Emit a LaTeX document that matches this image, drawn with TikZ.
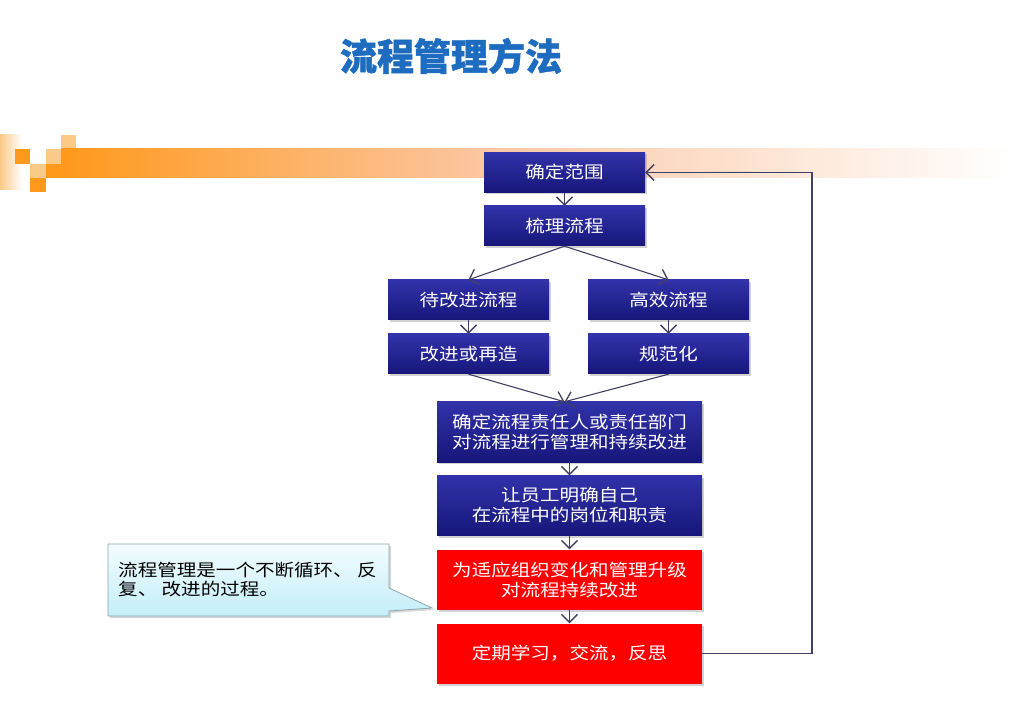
\documentclass[tikz,border=0pt]{standalone}
\usepackage{fontspec}
\usetikzlibrary{arrows.meta,shadows}
\newfontfamily\cjk[FakeStretch=1.15]{Noto Sans CJK SC}
\newfontfamily\cjkt[BoldFeatures={FakeBold=1.2}]{Noto Sans CJK SC}
\definecolor{boxtop}{RGB}{50,50,170}
\definecolor{boxbot}{RGB}{22,22,122}
\definecolor{lnc}{RGB}{64,64,100}
\definecolor{redb}{RGB}{255,0,0}
\definecolor{org}{RGB}{255,153,28}
\definecolor{lorg}{RGB}{252,202,135}
\definecolor{peach}{RGB}{252,198,162}
\definecolor{ttl}{RGB}{30,108,192}
\definecolor{cyt}{RGB}{242,252,254}
\definecolor{cyb}{RGB}{196,238,248}
\definecolor{cyd}{RGB}{140,165,175}
\tikzset{
  boxbase/.style={draw=none, minimum width=161pt, minimum height=40pt, inner sep=0pt,
    align=center, text=white, font=\cjk\fontsize{17}{20}\selectfont,
    drop shadow={shadow xshift=2pt, shadow yshift=-2pt, opacity=0.35}},
  bluebox/.style={boxbase, top color=boxtop, bottom color=boxbot},
  redbox/.style={boxbase, fill=redb},
  widebox/.style={minimum width=265pt, minimum height=60pt},
  conn/.style={draw=lnc, line width=1.1pt, -{Straight Barb[length=8pt,width=16pt,line width=1.3pt]}},
}
\begin{document}
\begin{tikzpicture}[x=1pt,y=-1pt]
\useasboundingbox (0,0) rectangle (1023,708);
\fill[white] (0,0) rectangle (1023,708);
% title
\node[font=\cjkt\bfseries\fontsize{37}{40}\selectfont, text=ttl] (ttl) at (451,56) {流程管理方法};
% orange decoration
\shade[left color=lorg, right color=white] (0,135) rectangle (22,190);
\fill[org] (15,149) rectangle (30,164);
\fill[lorg] (30,164) rectangle (46,178);
\fill[org] (30,178) rectangle (46,192);
\fill[lorg] (46,149) rectangle (61,164);
\fill[org] (46,164) rectangle (61,178);
\fill[lorg] (61,135) rectangle (76,149);
\shade[left color=org, right color=peach] (61,149) rectangle (482,178);
\shade[left color=peach, right color=white] (481.5,149) rectangle (1015,178);
% boxes
\node[bluebox] (n1) at (564.5,172.5) {确定范围};
\node[bluebox] (n2) at (564.5,226) {梳理流程};
\node[bluebox] (n3) at (468.5,300) {待改进流程};
\node[bluebox] (n4) at (668.5,300) {高效流程};
\node[bluebox] (n5) at (468.5,354) {改进或再造};
\node[bluebox] (n6) at (668.5,354) {规范化};
\node[bluebox,widebox] (n7) at (569.5,432) {确定流程责任人或责任部门\\对流程进行管理和持续改进};
\node[bluebox,widebox] (n8) at (569.5,505.5) {让员工明确自己\\在流程中的岗位和职责};
\node[redbox,widebox] (n9) at (569.5,579.5) {为适应组织变化和管理升级\\对流程持续改进};
\node[redbox,widebox] (n10) at (569.5,653.5) {定期学习，交流，反思};
% connectors
\coordinate (rt) at (812,0);
\draw[conn] (n1.south) -- (n2.north);
\draw[conn] (n2.south) -- (n3.north);
\draw[conn] (n2.south) -- (n4.north);
\draw[conn] (n3.south) -- (n5.north);
\draw[conn] (n4.south) -- (n6.north);
\draw[conn] (n5.south) -- (n1 |- n7.north);
\draw[conn] (n6.south) -- (n1 |- n7.north);
\draw[conn] (n7.south) -- (n8.north);
\draw[conn] (n8.south) -- (n9.north);
\draw[conn] (n9.south) -- (n10.north);
\draw[conn] (n10.east) -- (n10.east -| rt) -- (n1.east -| rt) -- (n1.east);
% callout
\path[draw=cyd, line width=0.8pt, top color=cyt, bottom color=cyb,
  drop shadow={shadow xshift=2pt, shadow yshift=-2pt, opacity=0.3}]
  (108,544) -- (389,544) -- (389,588) -- (432,608) -- (389,611) -- (389,616) -- (108,616) -- cycle;
\node[anchor=west, align=left, inner sep=0pt, font=\cjk\fontsize{17}{19}\selectfont, text=black] (cn) at (118,579.5) {流程管理是一个不断循环、 反\\复、 改进的过程。};
\end{tikzpicture}
\end{document}
